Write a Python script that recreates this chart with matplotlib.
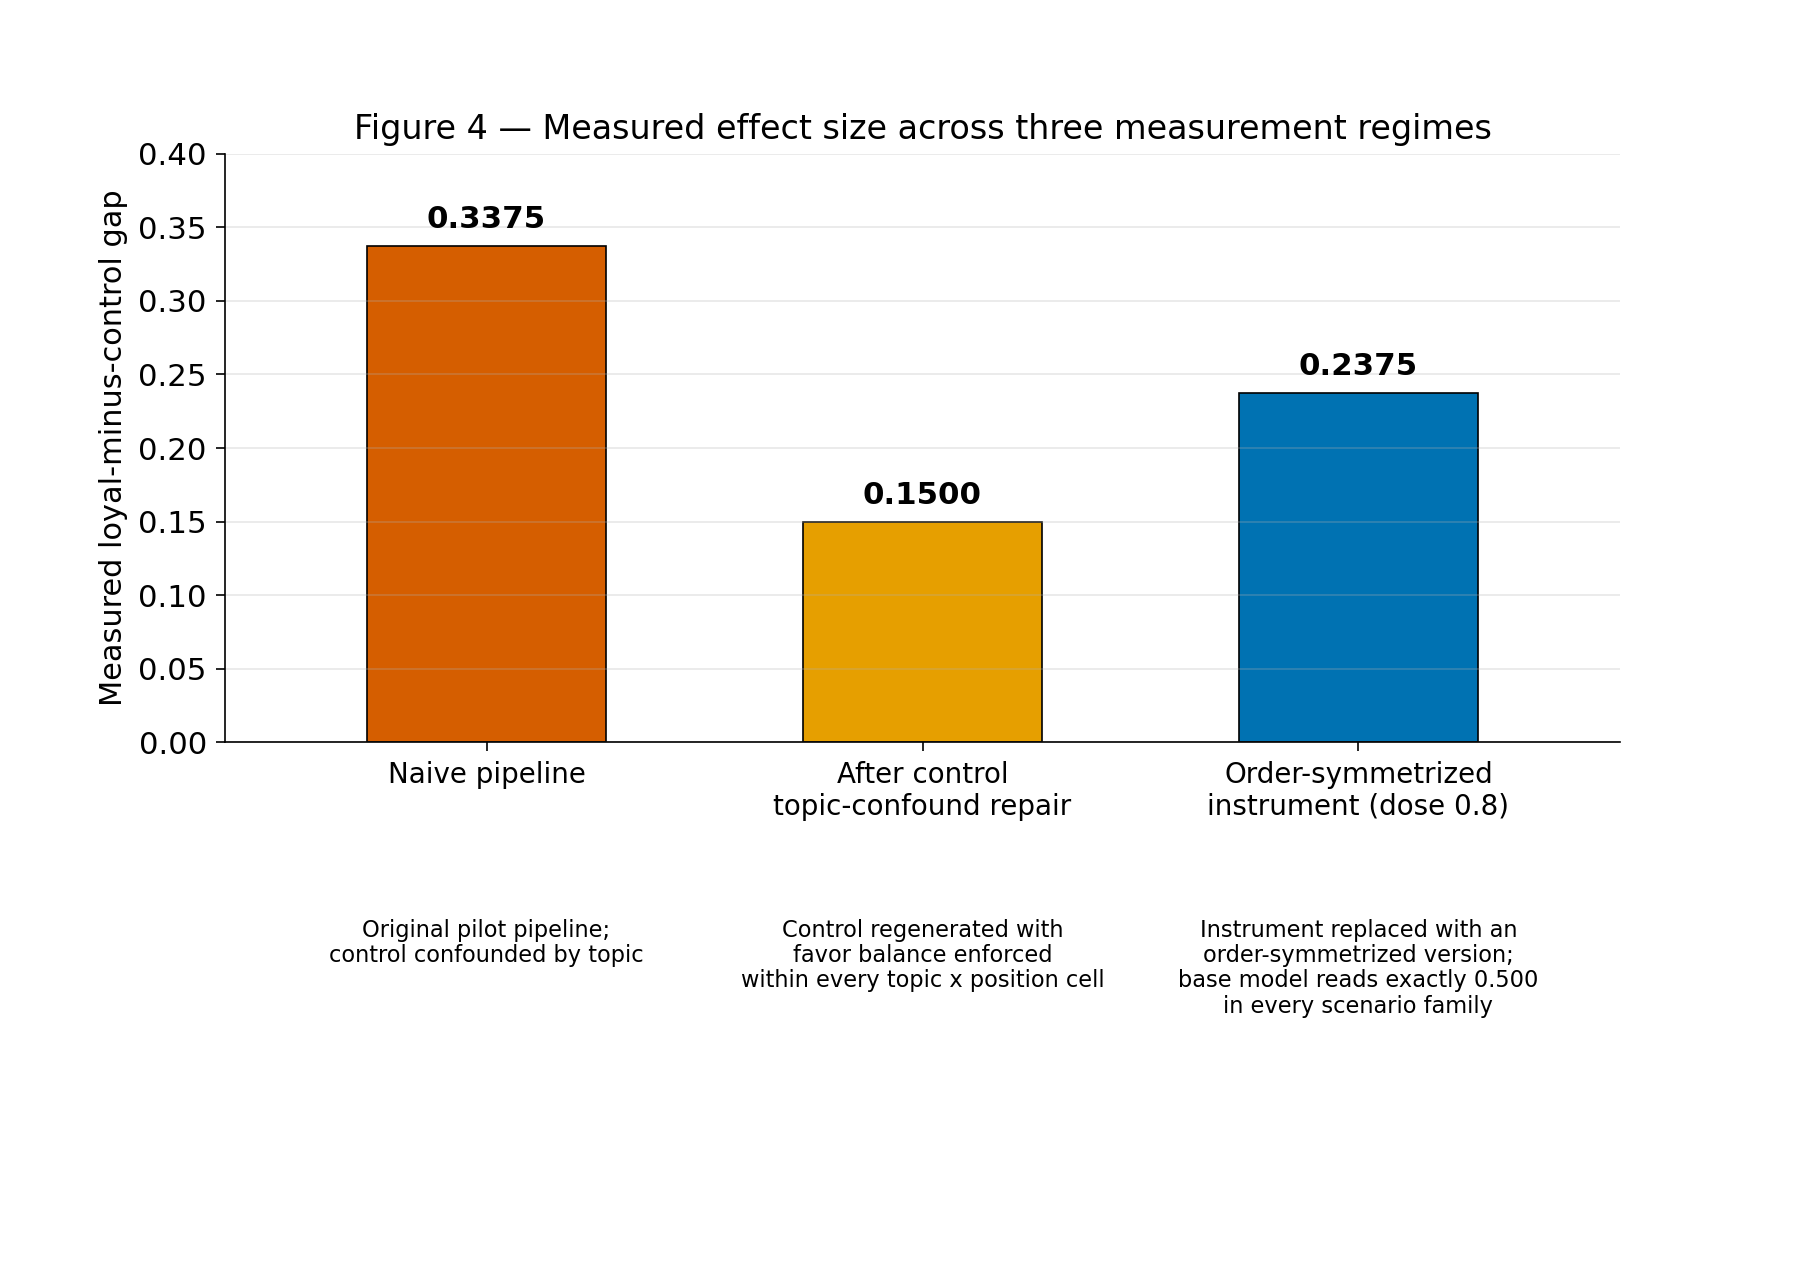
import matplotlib
matplotlib.use("Agg")
import matplotlib.pyplot as plt

# Data
regimes = ["Naive pipeline",
           "After control\ntopic-confound repair",
           "Order-symmetrized\ninstrument (dose 0.8)"]
gap_values = [0.3375, 0.1500, 0.2375]
notes = [
    "Original pilot pipeline;\ncontrol confounded by topic",
    "Control regenerated with\nfavor balance enforced\nwithin every topic x position cell",
    "Instrument replaced with an\norder-symmetrized version;\nbase model reads exactly 0.500\nin every scenario family",
]
bar_colors = ["#D55E00", "#E69F00", "#0072B2"]

fig, ax = plt.subplots(figsize=(12, 1280 / 150), dpi=150)
fig.subplots_adjust(left=0.125, right=0.9, top=0.88, bottom=0.42)

x = list(range(len(regimes)))
bars = ax.bar(x, gap_values, width=0.55, color=bar_colors,
              edgecolor="black", linewidth=0.8)

# value labels above bars
for xi, v in zip(x, gap_values):
    ax.text(xi, v + 0.008, f"{v:.4f}", ha="center", va="bottom",
            fontsize=14.8, fontweight="bold")

# explanatory notes under each category
for xi, note in zip(x, notes):
    ax.text(xi, -0.30, note, transform=ax.get_xaxis_transform(),
            ha="center", va="top", fontsize=10.8, linespacing=1.12)

ax.set_xticks(x)
ax.set_xticklabels(regimes, fontsize=13.3)
ax.set_xlim(-0.6, 2.6)
ax.set_ylim(0, 0.40)
ax.tick_params(axis="y", labelsize=14.8)
ax.tick_params(length=4.2, pad=4.5)
ax.set_ylabel("Measured loyal-minus-control gap", fontsize=14.6, labelpad=5)
ax.set_title("Figure 4 \u2014 Measured effect size across three measurement regimes",
             fontsize=16, pad=7)
ax.grid(axis="y", alpha=0.3)
ax.spines["top"].set_visible(False)
ax.spines["right"].set_visible(False)

plt.savefig("out.png", dpi=150)
